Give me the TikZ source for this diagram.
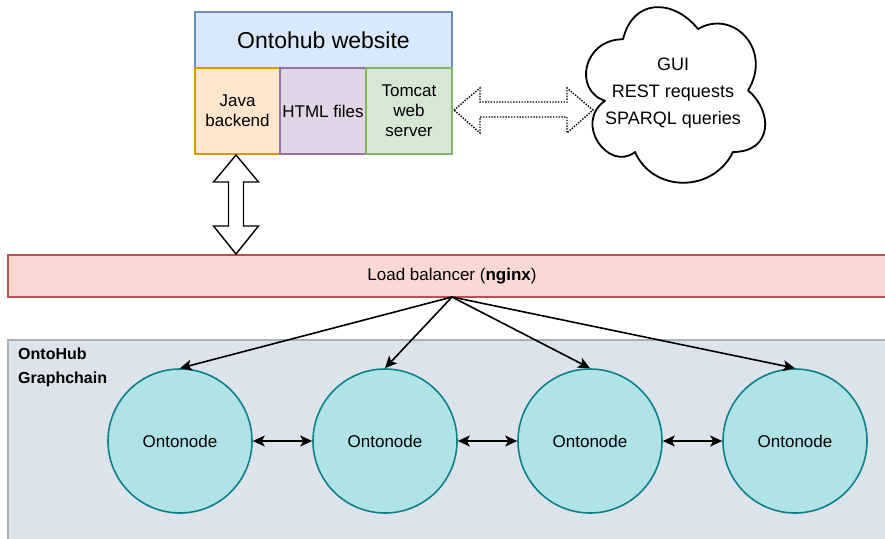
\documentclass[tikz,border=0pt]{standalone}
\usepackage{fontspec}
\setmainfont{Liberation Sans}
\usetikzlibrary{arrows.meta,calc}
\definecolor{webfill}{HTML}{DAE8FC}\definecolor{webline}{HTML}{6C8EBF}
\definecolor{javafill}{HTML}{FFE6CC}\definecolor{javaline}{HTML}{D79B00}
\definecolor{htmlfill}{HTML}{E1D5E7}\definecolor{htmlline}{HTML}{9673A6}
\definecolor{tomfill}{HTML}{D5E8D4}\definecolor{tomline}{HTML}{82B366}
\definecolor{lbfill}{HTML}{FAD9D5}\definecolor{lbline}{HTML}{B85450}
\definecolor{gcfill}{HTML}{DDE3EA}\definecolor{gcline}{HTML}{A8B1BA}
\definecolor{onfill}{HTML}{B0E3E6}\definecolor{online}{HTML}{0E8088}
\begin{document}
\begin{tikzpicture}[x=1pt,y=-1pt,
  box/.style={rectangle,draw,line width=1.4,inner sep=0pt,outer sep=0pt,align=center,
    font=\fontsize{17}{20}\selectfont},
  onode/.style={circle,draw=online,fill=onfill,line width=1.6,minimum size=144,inner sep=0pt,
    font=\fontsize{17}{20}\selectfont},
  conn/.style={line width=1.6,-{Stealth[length=12,width=11,inset=3]}},
  dconn/.style={line width=1.6,{Stealth[length=12,width=11,inset=3]}-{Stealth[length=12,width=11,inset=3]}},
  blockarrow/.style={draw,fill=white,line width=1.4,line join=miter},
  cloudline/.style={draw,fill=white,line width=1.8,line join=round}
]
\useasboundingbox (0,0) rectangle (885,538);
\clip (0,0) rectangle (885,538);
\fill[white] (0,0) rectangle (885,538);

% website
\node[box,draw=webline,fill=webfill,minimum width=257,minimum height=56,
  font=\fontsize{23}{27}\selectfont] (web) at (323.5,40) {Ontohub website};
\node[box,draw=javaline,fill=javafill,minimum width=85,minimum height=86] (java) at (237.5,111) {Java\\backend};
\node[box,draw=htmlline,fill=htmlfill,minimum width=86,minimum height=86] (html) at (323,111) {HTML files};
\node[box,draw=tomline,fill=tomfill,minimum width=86,minimum height=86] (tomcat) at (409,111) {Tomcat\\web\\server};

% cloud (draw.io cloud outline)
\begin{scope}[shift={(573,-12)},x=200pt,y=-205pt]
\path[cloudline] (0.25,0.25)
  .. controls (0.05,0.25) and (0,0.5) .. (0.16,0.55)
  .. controls (0,0.66) and (0.18,0.9) .. (0.31,0.8)
  .. controls (0.4,1) and (0.7,1) .. (0.8,0.8)
  .. controls (1,0.8) and (1,0.6) .. (0.875,0.5)
  .. controls (1,0.3) and (0.8,0.1) .. (0.625,0.2)
  .. controls (0.5,0.05) and (0.3,0.05) .. (0.25,0.25) -- cycle;
\end{scope}
\node[align=center,inner sep=0pt,font=\fontsize{18}{27}\selectfont] (cloud) at (673,93)
  {GUI\\REST requests\\SPARQL queries};

% dotted double block arrow
\draw[blockarrow,dash pattern=on 1.4pt off 1.4pt]
  (454,110) -- (480,88) -- (480,102) -- (567,102) -- (567,88) -- (593,110)
  -- (567,133) -- (567,117) -- (480,117) -- (480,133) -- cycle;

% load balancer
\node[box,draw=lbline,fill=lbfill,minimum width=888,minimum height=42] (lb) at (452,276)
  {Load balancer (\textbf{nginx})};

% vertical double block arrow
\draw[blockarrow]
  (236,155) -- (258.5,182) -- (243.5,182) -- (243.5,226) -- (258.5,226) -- (236,254)
  -- (213.5,226) -- (228.5,226) -- (228.5,182) -- (213.5,182) -- cycle;

% graphchain container
\node[box,draw=gcline,fill=gcfill,minimum width=900,minimum height=230] (gc) at (458,455) {};
\node[anchor=north west,align=left,inner sep=0pt,font=\bfseries\fontsize{16}{24}\selectfont]
  (gclabel) at (18,348) {OntoHub\\Graphchain};

% ontonodes
\node[onode] (n1) at (180,441) {Ontonode};
\node[onode] (n2) at (385,441) {Ontonode};
\node[onode] (n3) at (590,441) {Ontonode};
\node[onode] (n4) at (795,441) {Ontonode};

\foreach \n in {n1,n2,n3,n4} \draw[conn] (lb.south) -- (\n.north);
\draw[dconn] (n1.east) -- (n2.west);
\draw[dconn] (n2.east) -- (n3.west);
\draw[dconn] (n3.east) -- (n4.west);
\end{tikzpicture}
\end{document}
